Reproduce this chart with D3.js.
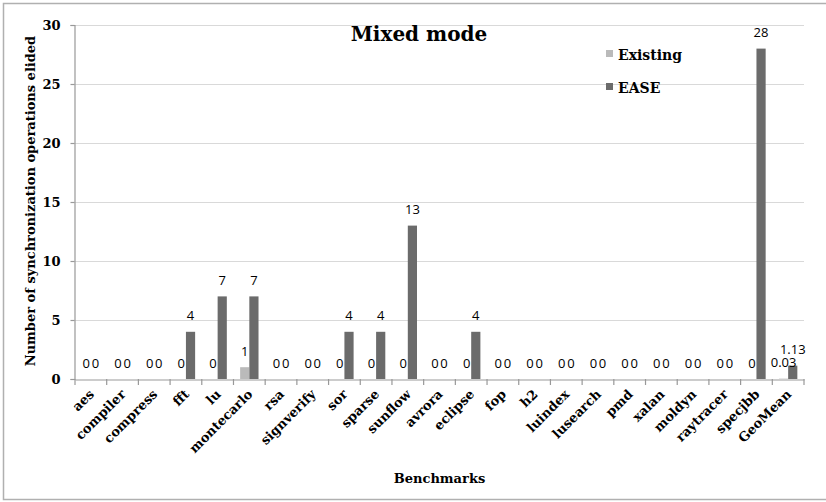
<!DOCTYPE html>
<html>
<head>
<meta charset="utf-8">
<script src="https://cdn.jsdelivr.net/npm/d3@7/dist/d3.min.js"></script>
<style>
html,body{margin:0;padding:0;background:#fff;}
svg{display:block;}
</style>
</head>
<body>
<svg id="chart" width="826" height="502"></svg>
<script>
const categories = ["aes","compiler","compress","fft","lu","montecarlo","rsa","signverify","sor","sparse","sunflow","avrora","eclipse","fop","h2","luindex","lusearch","pmd","xalan","moldyn","raytracer","specjbb","GeoMean"];
const existing = [0,0,0,0,0,1,0,0,0,0,0,0,0,0,0,0,0,0,0,0,0,0,0.03];
const ease =     [0,0,0,4,7,7,0,0,4,4,13,0,4,0,0,0,0,0,0,0,0,28,1.13];
const seriesNames = ["Existing","EASE"];
const seriesColors = ["#bababa","#6b6b6b"];
const yTicks = [0,5,10,15,20,25,30];

const svg = d3.select("#chart");
const serif = "'DejaVu Serif', serif";
const sans = "'Open Sans', sans-serif";

// outer border
svg.append("rect").attr("x",3.5).attr("y",3.5).attr("width",830).attr("height",496)
  .attr("fill","none").attr("stroke","#b0b0b0").attr("stroke-width",1.5);

const pLeft = 75, pRight = 804, pTop = 25, pBottom = 379;
const x0 = d3.scaleBand().domain(categories).range([pLeft,pRight]).paddingInner(0.42).paddingOuter(0.21);
const x1 = d3.scaleBand().domain(seriesNames).range([0,x0.bandwidth()]);
const y = d3.scaleLinear().domain([0,30]).range([pBottom,pTop]);

// gridlines
svg.append("g").selectAll("line").data(yTicks.filter(d=>d>0)).join("line")
  .attr("x1",pLeft-4).attr("x2",pRight).attr("y1",d=>y(d)+0.5).attr("y2",d=>y(d)+0.5)
  .attr("stroke","#d9d9d9").attr("stroke-width",1.2);

// y axis
const yAxis = svg.append("g").attr("transform",`translate(${pLeft-0.5},0)`)
  .call(d3.axisLeft(y).tickValues(yTicks).tickSize(4).tickFormat(d3.format("d")));
yAxis.select(".domain").attr("stroke","#999").attr("stroke-width",1.2);
yAxis.selectAll(".tick line").attr("stroke","#999").attr("stroke-width",1.2);
yAxis.selectAll(".tick text").attr("x",-14).attr("font-family",serif).attr("font-weight","bold")
  .attr("font-size",13).attr("fill","#000");

// bars
const data = categories.map((c,i)=>({cat:c, vals:[existing[i], ease[i]]}));
const groups = svg.append("g").selectAll("g").data(data).join("g")
  .attr("transform",d=>`translate(${x0(d.cat)},0)`);
groups.selectAll("rect").data(d=>d.vals.map((v,j)=>({v, s:seriesNames[j], j}))).join("rect")
  .attr("x",d=>x1(d.s)).attr("width",x1.bandwidth())
  .attr("y",d=>y(d.v)).attr("height",d=>pBottom-y(d.v))
  .attr("fill",d=>seriesColors[d.j]);
groups.selectAll("text").data(d=>d.vals.map((v,j)=>({v, s:seriesNames[j], j}))).join("text")
  .attr("x",d=>x1(d.s)+x1.bandwidth()/2).attr("y",d=>y(d.v)-11.5)
  .attr("text-anchor","middle").attr("font-family",sans).attr("font-size",13).attr("fill","#000")
  .text(d=>d.v);

// x axis
const xAxis = svg.append("g").attr("transform",`translate(0,${pBottom+0.5})`)
  .call(d3.axisBottom(x0).tickSize(0).tickFormat(""));
xAxis.select(".domain").attr("stroke","#999").attr("stroke-width",1.2);
const bounds = categories.map(c=>x0(c)-x0.step()*x0.paddingInner()/2).concat([pRight]);
svg.append("g").selectAll("line").data(bounds).join("line")
  .attr("x1",d=>d).attr("x2",d=>d).attr("y1",pBottom).attr("y2",pBottom+6)
  .attr("stroke","#999").attr("stroke-width",1.2);
const xl = svg.append("g").selectAll("g").data(categories).join("g")
  .attr("transform",d=>`translate(${x0(d)+x0.bandwidth()/2+4},${pBottom+16})`);
xl.append("text")
  .style("transform","rotate(-45deg)")
  .attr("text-anchor","end").attr("font-family",serif).attr("font-weight","bold")
  .attr("font-size",13).attr("fill","#000").text(d=>d);

// titles
svg.append("text").attr("x",419).attr("y",41).attr("text-anchor","middle")
  .attr("font-family",serif).attr("font-weight","bold").attr("font-size",20).attr("fill","#000")
  .text("Mixed mode");
svg.append("text").attr("x",439.5).attr("y",483).attr("text-anchor","middle")
  .attr("font-family",serif).attr("font-weight","bold").attr("font-size",13).attr("fill","#000")
  .text("Benchmarks");
svg.append("text").attr("transform",`translate(35,201) rotate(-90)`).attr("text-anchor","middle")
  .attr("font-family",serif).attr("font-weight","bold").attr("font-size",13).attr("fill","#000")
  .text("Number of synchronization operations elided");

// legend
const lg = svg.append("g").selectAll("g").data(seriesNames).join("g")
  .attr("transform",(d,i)=>`translate(606,${50+i*33})`);
lg.append("rect").attr("width",7).attr("height",7).attr("fill",(d,i)=>seriesColors[i]);
lg.append("text").attr("x",12).attr("y",10).attr("font-family",serif).attr("font-weight","bold")
  .attr("font-size",14).attr("fill","#000").text(d=>d);
</script>
</body>
</html>
